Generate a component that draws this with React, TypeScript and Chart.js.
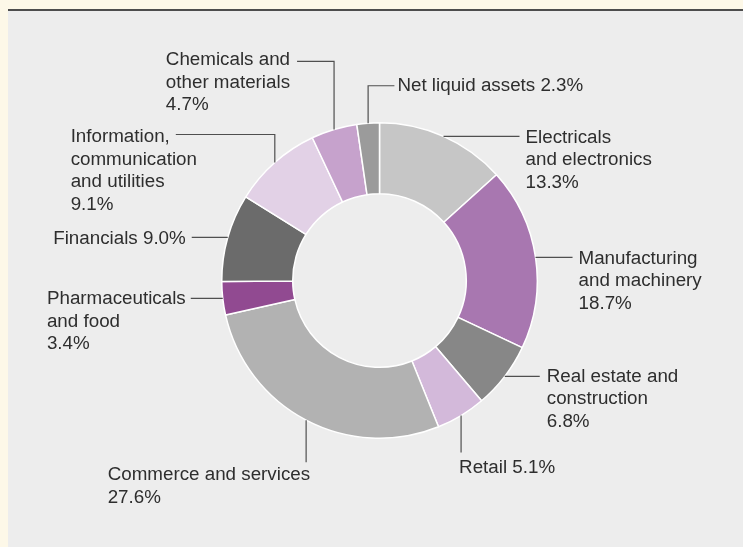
import React, { useEffect, useRef } from "react";
import { Chart, registerables } from "chart.js";

Chart.register(...registerables);

// ---- data ----
const categories = [
  "Electricals and electronics",
  "Manufacturing and machinery",
  "Real estate and construction",
  "Retail",
  "Commerce and services",
  "Pharmaceuticals and food",
  "Financials",
  "Information, communication and utilities",
  "Chemicals and other materials",
  "Net liquid assets",
];
const values = [13.3, 18.7, 6.8, 5.1, 27.6, 3.4, 9.0, 9.1, 4.7, 2.3];
const labelLines: string[][] = [
  ["Electricals", "and electronics"],
  ["Manufacturing", "and machinery"],
  ["Real estate and", "construction"],
  ["Retail"],
  ["Commerce and services"],
  ["Pharmaceuticals", "and food"],
  ["Financials"],
  ["Information,", "communication", "and utilities"],
  ["Chemicals and", "other materials"],
  ["Net liquid assets"],
];
// whether the percentage sits on the last name line or on its own line
const valueInline = [false, false, false, true, false, false, true, false, false, true];

// ---- styles / layout ----
const colors = [
  "#c6c6c6",
  "#a877b0",
  "#878787",
  "#d3b9da",
  "#b2b2b2",
  "#914a91",
  "#6b6b6b",
  "#e2d1e6",
  "#c6a2cc",
  "#9b9b9b",
];
type Step = ["h" | "v", number];
interface LabelLayout {
  steps: Step[];
  align: "left" | "right";
  dx: number;
  dy: number;
}
const labelLayout: LabelLayout[] = [
  { steps: [["h", 76]], align: "left", dx: 6, dy: 6.5 },
  { steps: [["h", 37]], align: "left", dx: 6, dy: 6.5 },
  { steps: [["h", 35]], align: "left", dx: 7, dy: 5.5 },
  { steps: [["v", 37]], align: "left", dx: -2, dy: 20 },
  { steps: [["v", 42]], align: "right", dx: 4, dy: 18 },
  { steps: [["h", -32]], align: "right", dx: -5, dy: 6 },
  { steps: [["h", -36]], align: "right", dx: -6, dy: 6.5 },
  { steps: [["v", -28], ["h", -99]], align: "right", dx: -6, dy: 8 },
  { steps: [["v", -68], ["h", -37]], align: "right", dx: -7, dy: 4 },
  { steps: [["v", -37.4], ["h", 26.3]], align: "left", dx: 3, dy: 5.7 },
];
const FONT = '18.8px "Liberation Sans", Arial, sans-serif';
const LINE_H = 22.5;

const leaderPlugin = {
  id: "leaders",
  afterDatasetsDraw(chart: any) {
    const ctx = chart.ctx as CanvasRenderingContext2D;
    const meta = chart.getDatasetMeta(0);
    ctx.save();
    ctx.font = FONT;
    meta.data.forEach((arc: any, i: number) => {
      const p = arc.getProps(["x", "y", "startAngle", "endAngle", "outerRadius"], true);
      const mid = (p.startAngle + p.endAngle) / 2;
      let x = p.x + Math.cos(mid) * p.outerRadius;
      let y = p.y + Math.sin(mid) * p.outerRadius;
      const lay = labelLayout[i];
      ctx.strokeStyle = "#4f4f4f";
      ctx.lineWidth = 1.2;
      ctx.beginPath();
      ctx.moveTo(x, y);
      lay.steps.forEach(([d, len]) => {
        if (d === "h") x += len;
        else y += len;
        ctx.lineTo(x, y);
      });
      ctx.stroke();

      const pct = values[i].toFixed(1) + "%";
      const lines = labelLines[i].slice();
      if (valueInline[i]) lines[lines.length - 1] += " " + pct;
      else lines.push(pct);
      const firstW = ctx.measureText(lines[0]).width;
      const left = lay.align === "left" ? x + lay.dx : x + lay.dx - firstW;
      const base = y + lay.dy;
      ctx.fillStyle = "#2e2e2e";
      ctx.textAlign = "left";
      ctx.textBaseline = "alphabetic";
      lines.forEach((t, k) => ctx.fillText(t, left, base + k * LINE_H));
    });
    ctx.restore();
  },
};

export default function App() {
  const ref = useRef<HTMLCanvasElement | null>(null);
  useEffect(() => {
    if (!ref.current) return;
    const chart = new Chart(ref.current, {
      type: "doughnut",
      data: {
        labels: categories,
        datasets: [
          {
            data: values,
            backgroundColor: colors,
            borderColor: "#ffffff",
            borderWidth: 1.5,
          },
        ],
      },
      options: {
        animation: false,
        responsive: false,
        cutout: "55%",
        layout: { padding: { left: 213, right: 205, top: 111, bottom: 108 } },
        plugins: {
          legend: { display: false },
          tooltip: { enabled: false },
        },
      },
      plugins: [leaderPlugin],
    });
    return () => chart.destroy();
  }, []);

  return (
    <div
      style={{
        position: "fixed",
        left: 0,
        top: 0,
        width: 743,
        height: 547,
        background: "#fdf8e8",
        overflow: "hidden",
      }}
    >
      <div
        style={{
          position: "absolute",
          left: 8,
          top: 9,
          width: 735,
          height: 538,
          background: "#ededed",
          borderTop: "2px solid #4d4d4d",
        }}
      >
        <canvas ref={ref} width={735} height={536} style={{ display: "block" }} />
      </div>
    </div>
  );
}
